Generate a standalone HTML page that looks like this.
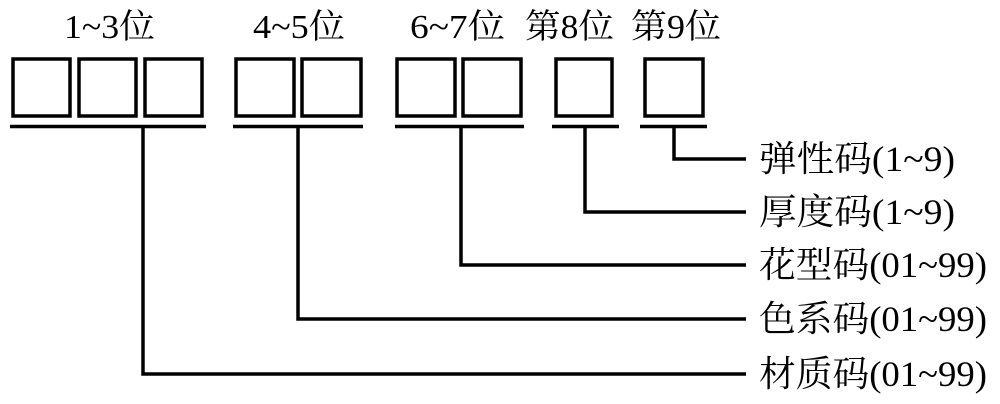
<!DOCTYPE html>
<html><head><meta charset="utf-8"><style>body{margin:0;background:#fff}svg{display:block}
text{font-family:"Liberation Serif","Noto Serif CJK SC","Noto Serif CJK",serif;}</style></head><body>
<svg width="1000" height="404" viewBox="0 0 1000 404" xmlns="http://www.w3.org/2000/svg">
<g fill="none" stroke="#000" stroke-width="3.5">
<rect x="13" y="59" width="57" height="57"/><rect x="79" y="59" width="57" height="57"/><rect x="145" y="59" width="57" height="57"/>
<rect x="236" y="59" width="58" height="57"/><rect x="302" y="59" width="59" height="57"/>
<rect x="397" y="59" width="58" height="57"/><rect x="463" y="59" width="58" height="57"/>
<rect x="556" y="59" width="56" height="57"/><rect x="645" y="59" width="58" height="57"/>
<line x1="10" y1="126.5" x2="206" y2="126.5"/>
<line x1="233" y1="126.5" x2="363" y2="126.5"/>
<line x1="395" y1="126.5" x2="524" y2="126.5"/>
<line x1="552" y1="126.5" x2="619" y2="126.5"/>
<line x1="640" y1="126.5" x2="707" y2="126.5"/>
<polyline points="674,126 674,159 746,159"/>
<polyline points="585,126 585,212 746,212"/>
<polyline points="461,126 461,265 746,265"/>
<polyline points="298,126 298,319 746,319"/>
<polyline points="143,126 143,374 746,374"/>
</g>
<g font-size="34" fill="#000">
<text x="64" y="38" textLength="91" lengthAdjust="spacingAndGlyphs">1~3位</text>
<text x="253" y="38" textLength="92" lengthAdjust="spacingAndGlyphs">4~5位</text>
<text x="410" y="38" textLength="95" lengthAdjust="spacingAndGlyphs">6~7位</text>
<text x="525" y="38" textLength="89" lengthAdjust="spacingAndGlyphs">第8位</text>
<text x="631" y="38" textLength="90" lengthAdjust="spacingAndGlyphs">第9位</text>
</g>
<g font-size="36" fill="#000">
<text x="759" y="171" textLength="196" lengthAdjust="spacingAndGlyphs">弹性码(1~9)</text>
<text x="759" y="224" textLength="196" lengthAdjust="spacingAndGlyphs">厚度码(1~9)</text>
<text x="759" y="277" textLength="228" lengthAdjust="spacingAndGlyphs">花型码(01~99)</text>
<text x="759" y="331" textLength="228" lengthAdjust="spacingAndGlyphs">色系码(01~99)</text>
<text x="759" y="386" textLength="228" lengthAdjust="spacingAndGlyphs">材质码(01~99)</text>
</g>
</svg>
</body></html>
